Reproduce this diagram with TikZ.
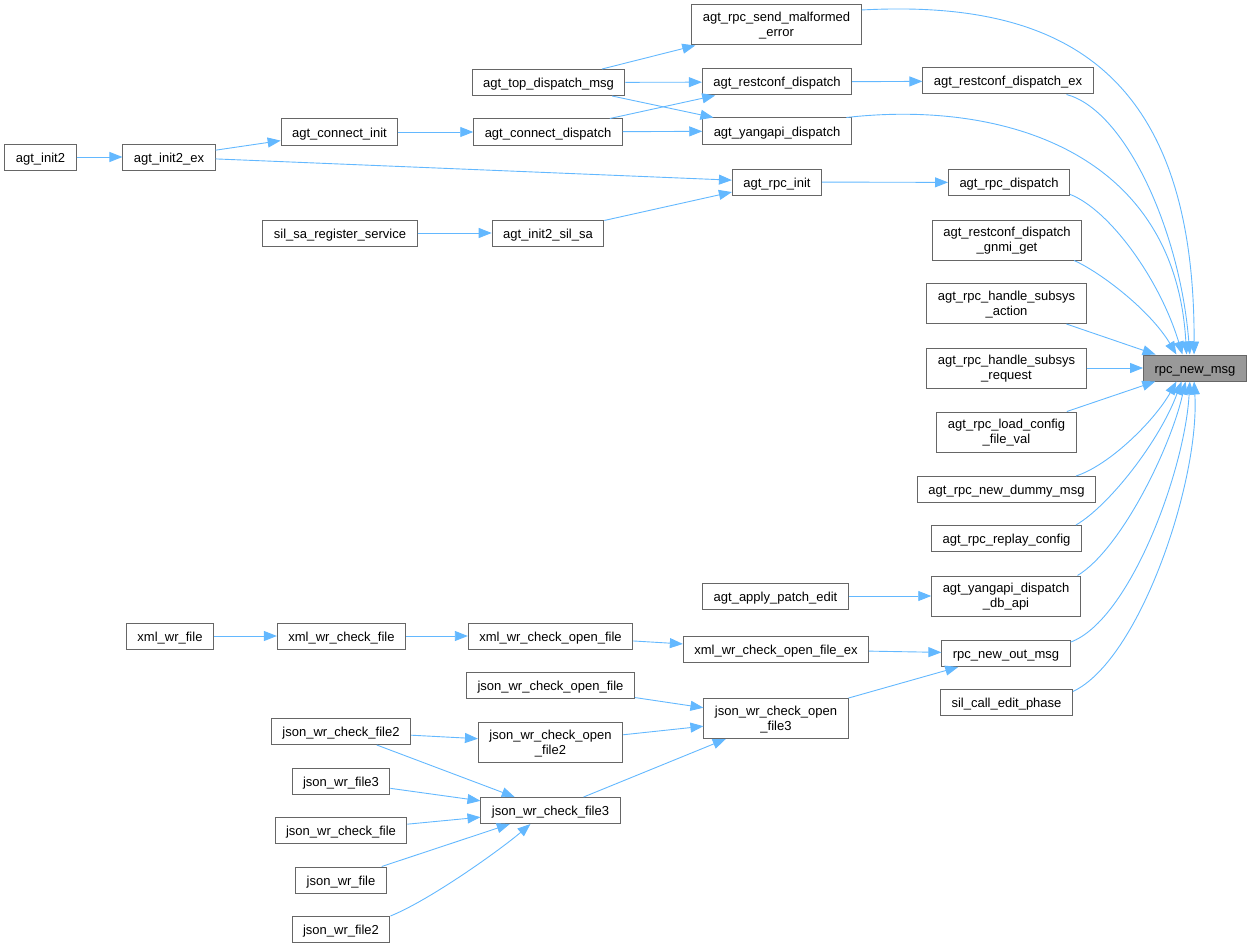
\documentclass[tikz,border=0pt]{standalone}
\usepackage{fontspec}
\setmainfont{Liberation Sans}
\usetikzlibrary{arrows.meta}
\definecolor{edgeblue}{HTML}{63B8FF}
\definecolor{boxgray}{HTML}{666666}
\definecolor{hlgray}{HTML}{999999}
\begin{document}
\begin{tikzpicture}[x=1pt,y=-1pt,
    fnbase/.style={draw=boxgray,line width=1pt,fill=white,inner xsep=11pt,inner ysep=2pt,
        align=center,font=\fontsize{13}{15}\selectfont},
    fn/.style={fnbase,minimum height=26pt,text height=12.5pt,text depth=2.5pt},
    fntwo/.style={fnbase,minimum height=40pt,text depth=0.5pt},
    cur/.style={fn,fill=hlgray},
    call/.style={draw=edgeblue,line width=0.9pt,-{Triangle[length=13pt,width=10pt]}}]
\useasboundingbox (0,0) rectangle (1252,947);
\node[fntwo] (sendmal) at (776.5,25) {agt\_rpc\_send\_malformed\\\_error};
\node[fn] (topdisp) at (548.5,82.5) {agt\_top\_dispatch\_msg};
\node[fn] (rcdisp) at (777,82) {agt\_restconf\_dispatch};
\node[fn] (rcdispex) at (1008,81) {agt\_restconf\_dispatch\_ex};
\node[fn] (yadisp) at (777,131) {agt\_yangapi\_dispatch};
\node[fn] (conndisp) at (548,132) {agt\_connect\_dispatch};
\node[fn] (conninit) at (339.5,132) {agt\_connect\_init};
\node[fn] (init2) at (40.5,157) {agt\_init2};
\node[fn] (init2ex) at (169,157) {agt\_init2\_ex};
\node[fn] (rpcinit) at (777,182) {agt\_rpc\_init};
\node[fn] (rpcdisp) at (1009,182.5) {agt\_rpc\_dispatch};
\node[fn] (silsareg) at (340,233) {sil\_sa\_register\_service};
\node[fn] (init2silsa) at (548,233) {agt\_init2\_sil\_sa};
\node[fntwo] (gnmi) at (1007,240) {agt\_restconf\_dispatch\\\_gnmi\_get};
\node[fntwo] (action) at (1006.5,303.5) {agt\_rpc\_handle\_subsys\\\_action};
\node[fntwo] (request) at (1006.5,368) {agt\_rpc\_handle\_subsys\\\_request};
\node[cur] (rpcnew) at (1195,368) {rpc\_new\_msg};
\node[fntwo] (loadcfg) at (1006.5,432) {agt\_rpc\_load\_config\\\_file\_val};
\node[fn] (dummy) at (1006.5,489.5) {agt\_rpc\_new\_dummy\_msg};
\node[fn] (replay) at (1006.5,538.5) {agt\_rpc\_replay\_config};
\node[fntwo] (dbapi) at (1006,596) {agt\_yangapi\_dispatch\\\_db\_api};
\node[fn] (applypatch) at (775.5,596) {agt\_apply\_patch\_edit};
\node[fn] (xmlfile) at (170,636) {xml\_wr\_file};
\node[fn] (xmlcheck) at (341.5,636) {xml\_wr\_check\_file};
\node[fn] (xmlopen) at (550.5,636) {xml\_wr\_check\_open\_file};
\node[fn] (xmlopenex) at (776,649.5) {xml\_wr\_check\_open\_file\_ex};
\node[fn] (outmsg) at (1006,653.5) {rpc\_new\_out\_msg};
\node[fn] (silcall) at (1006.5,702) {sil\_call\_edit\_phase};
\node[fn] (jopen) at (550.5,685) {json\_wr\_check\_open\_file};
\node[fntwo] (jopen3) at (776,718.5) {json\_wr\_check\_open\\\_file3};
\node[fn] (jcheck2) at (341,731.5) {json\_wr\_check\_file2};
\node[fntwo] (jopen2) at (550.5,742.5) {json\_wr\_check\_open\\\_file2};
\node[fn] (jfile3) at (341,781.5) {json\_wr\_file3};
\node[fn] (jcheck3) at (550.5,810.5) {json\_wr\_check\_file3};
\node[fn] (jcheck) at (341,830.5) {json\_wr\_check\_file};
\node[fn] (jfile) at (341,880) {json\_wr\_file};
\node[fn] (jfile2) at (341,929.5) {json\_wr\_file2};

\draw[call] (topdisp) -- (sendmal);
\draw[call] (topdisp) -- (rcdisp);
\draw[call] (topdisp) -- (yadisp);
\draw[call] (conndisp) -- (rcdisp);
\draw[call] (conndisp) -- (yadisp);
\draw[call] (rcdisp) -- (rcdispex);
\draw[call] (conninit) -- (conndisp);
\draw[call] (init2ex) -- (conninit);
\draw[call] (init2) -- (init2ex);
\draw[call] (init2ex) -- (rpcinit);
\draw[call] (rpcinit) -- (rpcdisp);
\draw[call] (silsareg) -- (init2silsa);
\draw[call] (init2silsa) -- (rpcinit);
\draw[call] (sendmal.10) .. controls (1050,0) and (1195,60) .. (rpcnew.94);
\draw[call] (rcdispex.347) .. controls (1125,110) and (1180,230) .. (rpcnew.111);
\draw[call] (yadisp.11) .. controls (1000,100) and (1175,150) .. (rpcnew.122);
\draw[call] (rpcdisp.349) .. controls (1110,210) and (1160,280) .. (rpcnew.133);
\draw[call] (gnmi.343) .. controls (1100,272) and (1150,310) .. (rpcnew.144);
\draw[call] (action) -- (rpcnew);
\draw[call] (request) -- (rpcnew);
\draw[call] (loadcfg) -- (rpcnew);
\draw[call] (dummy.11) .. controls (1110,465) and (1155,420) .. (rpcnew.216);
\draw[call] (replay.11) .. controls (1110,505) and (1160,440) .. (rpcnew.225);
\draw[call] (dbapi.16) .. controls (1120,550) and (1170,450) .. (rpcnew.235);
\draw[call] (outmsg.10) .. controls (1130,620) and (1185,470) .. (rpcnew.249);
\draw[call] (silcall.9) .. controls (1140,660) and (1200,480) .. (rpcnew.266);
\draw[call] (applypatch) -- (dbapi);
\draw[call] (xmlfile) -- (xmlcheck);
\draw[call] (xmlcheck) -- (xmlopen);
\draw[call] (xmlopen) -- (xmlopenex);
\draw[call] (xmlopenex) -- (outmsg);
\draw[call] (jopen3) -- (outmsg);
\draw[call] (jopen) -- (jopen3);
\draw[call] (jopen2) -- (jopen3);
\draw[call] (jcheck3) -- (jopen3);
\draw[call] (jcheck2) -- (jopen2);
\draw[call] (jcheck2) -- (jcheck3);
\draw[call] (jfile3) -- (jcheck3);
\draw[call] (jcheck) -- (jcheck3);
\draw[call] (jfile) -- (jcheck3);
\draw[call] (jfile2.north east) .. controls (430,900) and (500,850) .. (jcheck3.214);
\end{tikzpicture}
\end{document}
